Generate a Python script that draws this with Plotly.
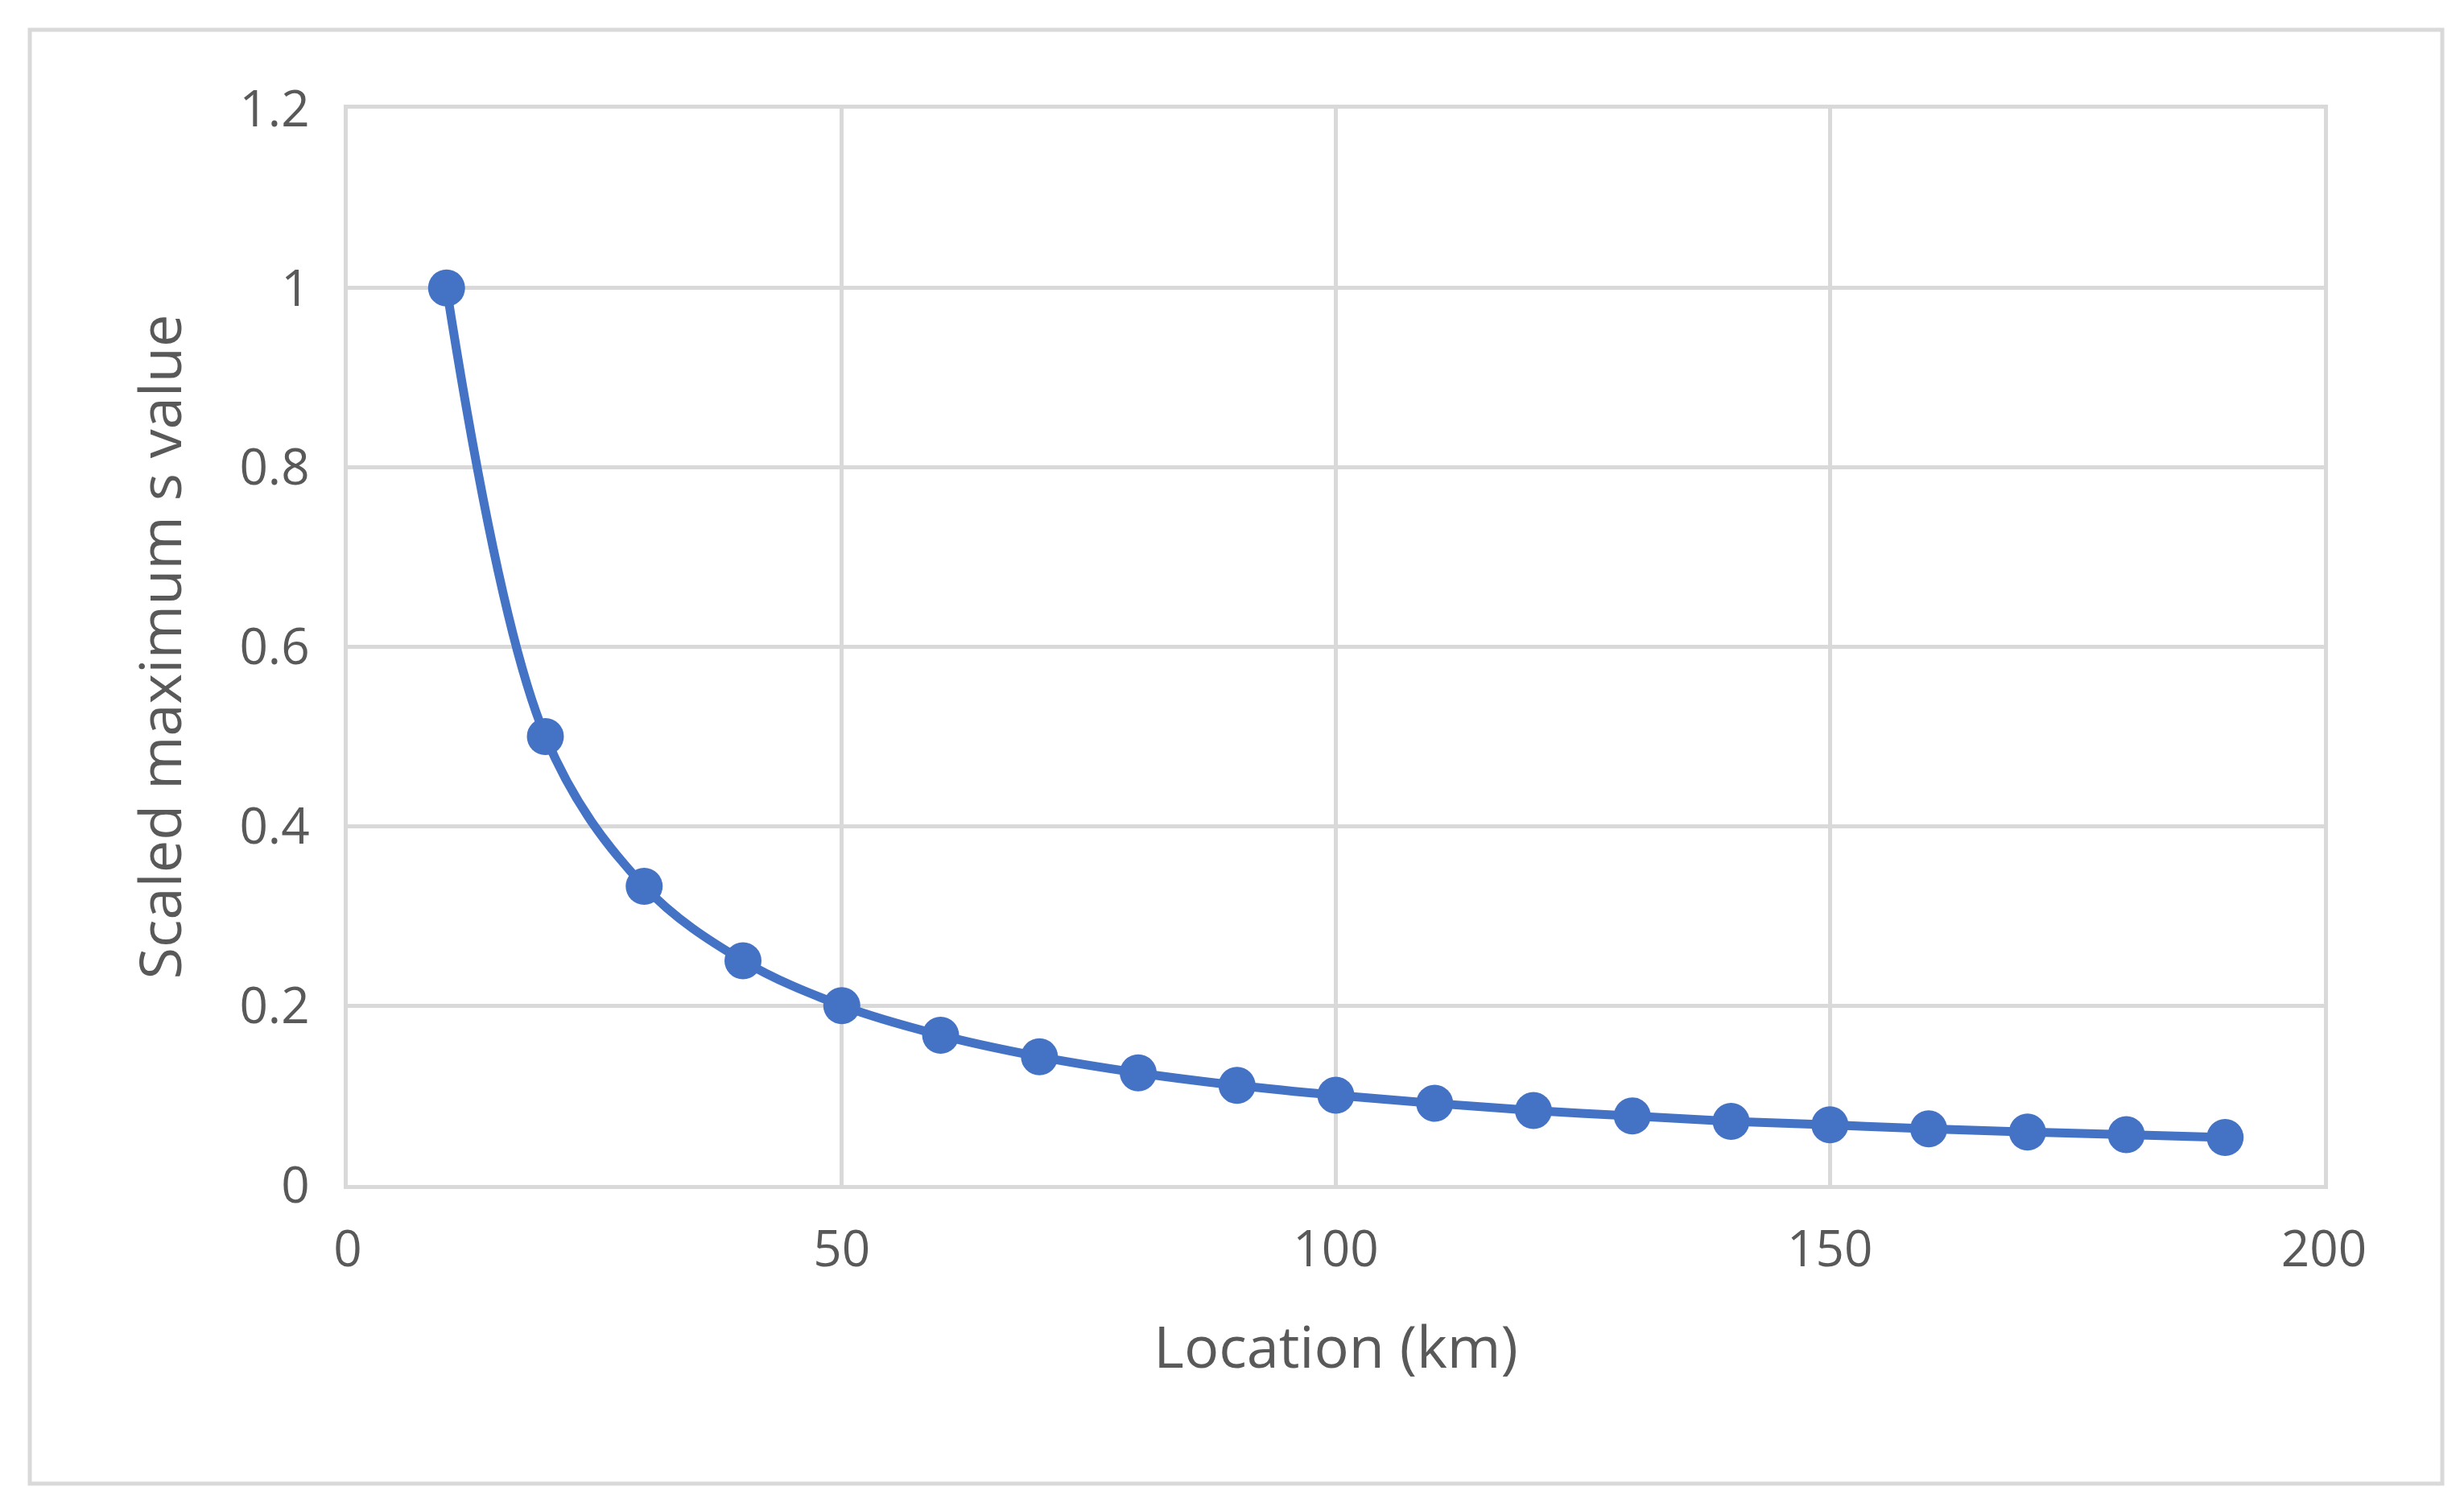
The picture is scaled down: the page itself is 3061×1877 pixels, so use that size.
import plotly.graph_objects as go

location_km = [10, 20, 30, 40, 50, 60, 70, 80, 90, 100, 110, 120, 130, 140, 150, 160, 170, 180, 190]
scaled_max_s = [1.0, 0.5, 0.333, 0.25, 0.2, 0.167, 0.143, 0.125, 0.111, 0.1, 0.091, 0.083, 0.077, 0.071, 0.067, 0.0625, 0.059, 0.056, 0.053]

W, H = 3061, 1877
fig = go.Figure(go.Scatter(
    x=location_km, y=scaled_max_s, mode="lines+markers",
    line=dict(color="#4472C4", width=11, shape="spline", smoothing=1.0),
    marker=dict(color="#4472C4", size=46),
))
grid = "#D9D9D9"
tickfont = dict(family="Open Sans", size=62, color="#595959")
titlefont = dict(family="Open Sans", size=72, color="#595959")
fig.update_layout(
    width=W, height=H, plot_bgcolor="white", paper_bgcolor="white",
    margin=dict(l=424, r=W - 2879, t=127, b=H - 1464),
    showlegend=False,
    xaxis=dict(range=[0, 200], dtick=50, showgrid=True, gridcolor=grid, gridwidth=5,
               showline=True, linecolor=grid, linewidth=5, mirror=True, zeroline=False,
               tickfont=tickfont, ticks="", ticklabelstandoff=22,
               title=dict(text="Location (km)", font=titlefont, standoff=60)),
    yaxis=dict(range=[0, 1.2], dtick=0.2, showgrid=True, gridcolor=grid, gridwidth=5,
               showline=True, linecolor=grid, linewidth=5, mirror=True, zeroline=False,
               tickfont=tickfont, ticks="", ticklabelstandoff=30, tickformat="~g",
               title=dict(text="Scaled maximum s value", font=titlefont, standoff=50)),
    shapes=[dict(type="rect", xref="paper", yref="paper",
                 x0=(29 - 424) / (2879 - 424), x1=(3026 - 424) / (2879 - 424),
                 y0=(1464 - 1835) / (1464 - 127), y1=(1464 - 29) / (1464 - 127),
                 line=dict(color=grid, width=5))],
)
fig.write_html("out.html")
